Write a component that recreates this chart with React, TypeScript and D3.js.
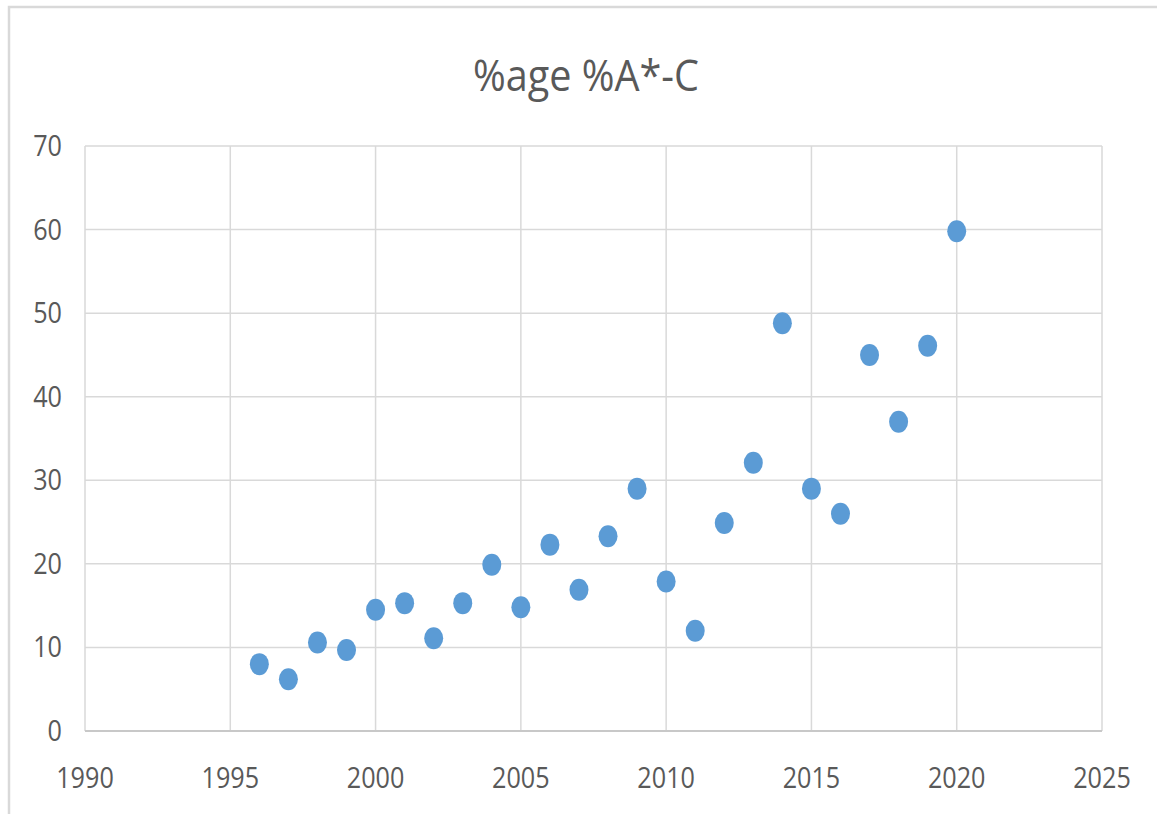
import * as d3 from "d3";
import { useEffect, useRef } from "react";

const years = [
  1996, 1997, 1998, 1999, 2000, 2001, 2002, 2003, 2004, 2005, 2006, 2007, 2008,
  2009, 2010, 2011, 2012, 2013, 2014, 2015, 2016, 2017, 2018, 2019, 2020,
];
const pctAC = [
  8.0, 6.2, 10.6, 9.7, 14.5, 15.3, 11.1, 15.3, 19.9, 14.8, 22.3, 16.9, 23.3,
  29.0, 17.9, 12.0, 24.9, 32.1, 48.8, 29.0, 26.0, 45.0, 37.0, 46.1, 59.8,
];
const xTicks = [1990, 1995, 2000, 2005, 2010, 2015, 2020, 2025];
const yTicks = [0, 10, 20, 30, 40, 50, 60, 70];
const title = "%age %A*-C";

export default function App() {
  const svgRef = useRef<SVGSVGElement | null>(null);

  useEffect(() => {
    const svg = d3.select(svgRef.current);
    svg.selectAll("*").remove();

    const width = 1157;
    const height = 814;
    const plot = { left: 85, right: 1102, top: 146, bottom: 731 };
    const textColor = "#595959";
    const gridColor = "#d9d9d9";
    const font = "'Open Sans', sans-serif";

    svg.append("rect").attr("width", width).attr("height", height).attr("fill", "#fff");

    // outer chart border
    svg
      .append("rect")
      .attr("x", 9)
      .attr("y", 7)
      .attr("width", width + 20)
      .attr("height", height + 20)
      .attr("fill", "none")
      .attr("stroke", gridColor)
      .attr("stroke-width", 2.5);

    const x = d3.scaleLinear().domain([1990, 2025]).range([plot.left, plot.right]);
    const y = d3.scaleLinear().domain([0, 70]).range([plot.bottom, plot.top]);

    // gridlines
    svg
      .append("g")
      .selectAll("line")
      .data(xTicks)
      .join("line")
      .attr("x1", (d) => x(d))
      .attr("x2", (d) => x(d))
      .attr("y1", plot.top)
      .attr("y2", plot.bottom)
      .attr("stroke", gridColor)
      .attr("stroke-width", 1.5);

    svg
      .append("g")
      .selectAll("line")
      .data(yTicks)
      .join("line")
      .attr("x1", plot.left)
      .attr("x2", plot.right)
      .attr("y1", (d) => y(d))
      .attr("y2", (d) => y(d))
      .attr("stroke", gridColor)
      .attr("stroke-width", 1.5);

    // bottom axis line
    svg
      .append("line")
      .attr("x1", plot.left)
      .attr("x2", plot.right)
      .attr("y1", y(0))
      .attr("y2", y(0))
      .attr("stroke", "#c8c8c8")
      .attr("stroke-width", 2);

    // y labels
    svg
      .append("g")
      .selectAll("text")
      .data(yTicks)
      .join("text")
      .attr("transform", (d) => `translate(62,${y(d) + 10}) scale(0.84,1)`)
      .attr("text-anchor", "end")
      .attr("font-family", font)
      .attr("font-size", 30)
      .attr("fill", textColor)
      .text((d) => d);

    // x labels
    svg
      .append("g")
      .selectAll("text")
      .data(xTicks)
      .join("text")
      .attr("transform", (d) => `translate(${x(d)},${plot.bottom + 57}) scale(0.84,1)`)
      .attr("text-anchor", "middle")
      .attr("font-family", font)
      .attr("font-size", 30)
      .attr("fill", textColor)
      .text((d) => d);

    // title
    svg
      .append("text")
      .attr("transform", `translate(586,91) scale(0.9,1)`)
      .attr("text-anchor", "middle")
      .attr("font-family", font)
      .attr("font-size", 44)
      .attr("fill", textColor)
      .text(title);

    // points
    svg
      .append("g")
      .selectAll("ellipse")
      .data(years.map((yr, i) => ({ yr, v: pctAC[i] })))
      .join("ellipse")
      .attr("cx", (d) => x(d.yr))
      .attr("cy", (d) => y(d.v))
      .attr("rx", 9.5)
      .attr("ry", 11)
      .attr("fill", "#5b9bd5");
  }, []);

  return (
    <svg
      ref={svgRef}
      width={1157}
      height={814}
      style={{ position: "absolute", left: 0, top: 0, display: "block" }}
    ></svg>
  );
}
